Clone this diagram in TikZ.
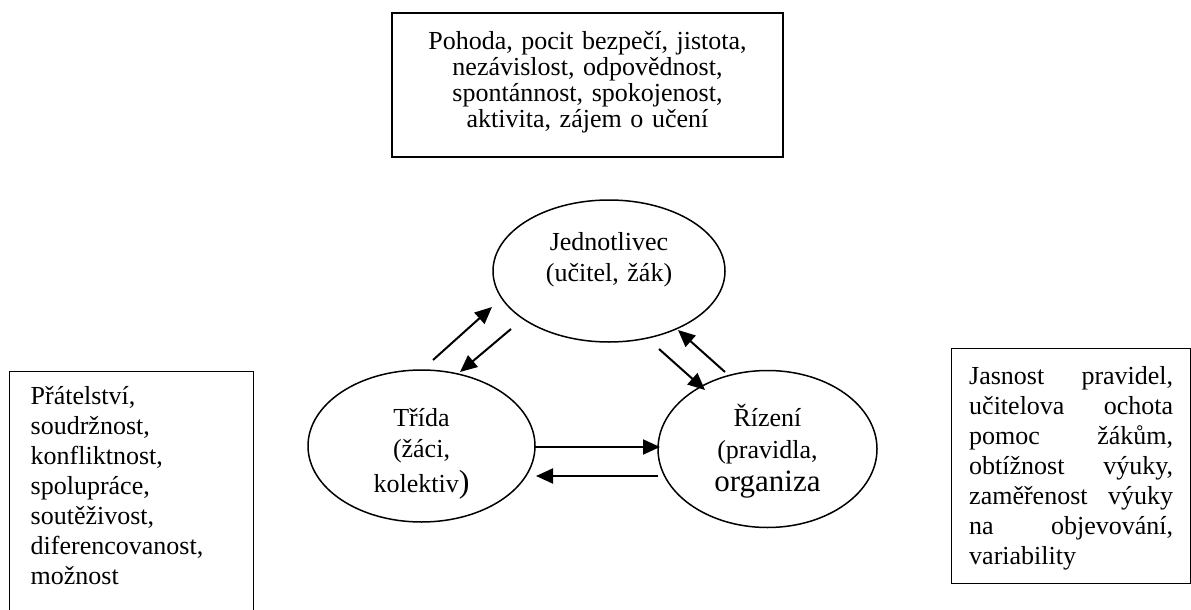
\documentclass[tikz,border=0pt]{standalone}
\usepackage{fontspec}
\setmainfont{Liberation Serif}
\usetikzlibrary{arrows.meta,shapes.geometric,calc}

\begin{document}
\begin{tikzpicture}[
    x=1pt, y=-1pt,
    txt/.style={font=\fontsize{26}{30}\selectfont, inner sep=0pt},
    box/.style={txt, draw, line width=1.4pt, inner ysep=0pt},
    oval/.style={txt, draw, ellipse, line width=1.5pt, align=center,
                 font=\fontsize{26}{31}\selectfont},
    arr/.style={-{Triangle[length=17pt,width=15pt]}, line width=2pt}
]
\useasboundingbox (0,0) rectangle (1191,610);
\clip (0,0) rectangle (1191,610);

% ── Boxes ──
\node[box, align=center, text width=391pt, text height=36pt, text depth=108pt,
      font=\fontsize{26}{26}\selectfont] (pohoda) at (587.5,85)
  {Pohoda, pocit bezpečí, jistota,\\ nezávislost, odpovědnost,\\
   spontánnost, spokojenost,\\ aktivita, zájem o učení};
\node[box, align=left, text width=202pt, inner xsep=21pt, text height=33pt,
      text depth=240pt, anchor=north west] (pratel) at (9,371)
  {Přátelství,\\ soudržnost,\\ konfliktnost,\\ spolupráce,\\ soutěživost,\\
   diferencovanost,\\ možnost};
\node[box, align=left, text width=204pt, inner xsep=17.5pt, text height=36pt,
      text depth=199pt, anchor=north west] (jasnost) at (951,348)
  {Jasnost\hfill pravidel,\\ učitelova\hfill ochota\\ pomoc\hfill žákům,\\
   obtížnost\hfill výuky,\\ zaměřenost\hfill výuky\\ na\hfill objevování,\\
   variability};

% ── Ovals ──
\node[oval, minimum width=232pt, minimum height=142pt, text width=160pt,
      text height=20pt, text depth=62pt] (jedn) at (609,271)
  {Jednotlivec\\(učitel, žák)};
\node[oval, minimum width=227pt, minimum height=152pt, text width=140pt,
      text height=20pt, text depth=60pt] (trida) at (421.5,446)
  {Třída\\(žáci,\\[4pt]kolektiv{\fontsize{32}{32}\selectfont)}};
\node[oval, minimum width=219pt, minimum height=157pt, text width=130pt,
      text height=20pt, text depth=66pt] (rizeni) at (767.5,449)
  {Řízení\\[1pt](pravidla,\\[2pt]{\fontsize{31}{31}\selectfont organiza}};

% ── Arrows ──
\draw[arr] ($(trida)+(11.5,-86)$) -- ($(jedn)+(-117,36)$);
\draw[arr] ($(jedn)+(-98,58)$) -- ($(trida)+(38.5,-74)$);
\draw[arr] ($(jedn)+(50,78)$) -- ($(rizeni)+(-62.5,-59)$);
\draw[arr] ($(rizeni)+(-42.5,-77)$) -- ($(jedn)+(69,59)$);
\draw[arr] ($(trida)+(113.5,1)$) -- ($(rizeni)+(-107.5,-2)$);
\draw[arr] ($(rizeni)+(-109.5,27)$) -- ($(trida)+(114.5,30)$);

\end{tikzpicture}
\end{document}
